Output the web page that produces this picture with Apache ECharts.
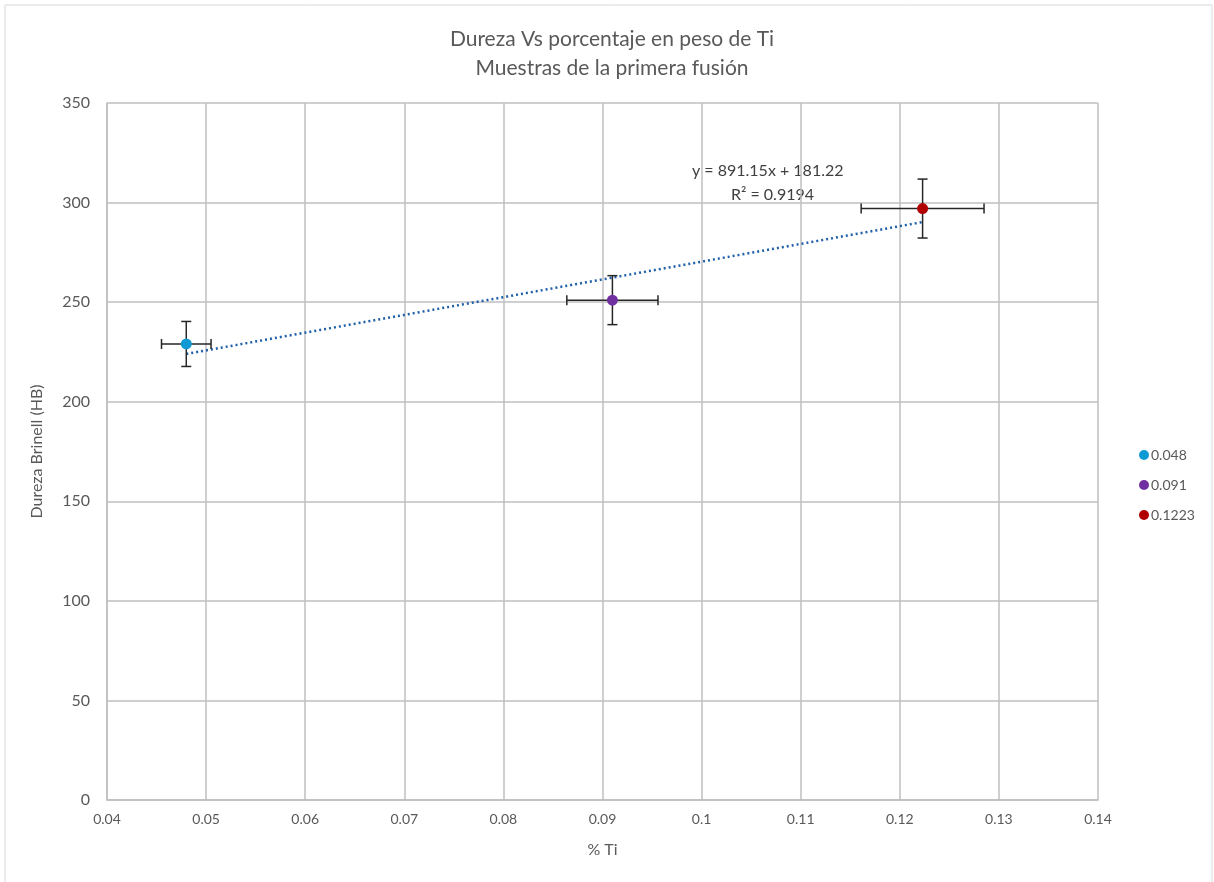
<!DOCTYPE html>
<html><head><meta charset="utf-8">
<script src="https://cdn.jsdelivr.net/npm/echarts@6/dist/echarts.min.js"></script>
<style>html,body{margin:0;padding:0;background:#fff}#c{width:1214px;height:882px}</style>
</head><body><div id="c"></div>
<script>
const names = ['0.048', '0.091', '0.1223'];
const xVals = [0.048, 0.091, 0.1223];
const yVals = [229, 251, 297];
const yErr = [11.3, 12.3, 14.8];
const xErr = [0.0025, 0.0046, 0.0062];
const colors = ['#0f9ad6', '#7030a0', '#b00000'];
const trendX = [0.048, 0.1223];
const trendY = [223.99, 290.21];
const xTicks = [0.04, 0.05, 0.06, 0.07, 0.08, 0.09, 0.1, 0.11, 0.12, 0.13, 0.14];

const FONT = 'Lato, "Open Sans", sans-serif';
const chart = echarts.init(document.getElementById('c'));

const pointSeries = names.map((n, i) => ({
  name: n, type: 'scatter', symbol: 'circle', symbolSize: 11,
  itemStyle: {color: colors[i], opacity: 1}, z: 5,
  data: [[xVals[i], yVals[i]]]
}));

const errSeries = {
  type: 'custom', silent: true, z: 4,
  data: xVals.map((x, i) => [x, yVals[i], xErr[i], yErr[i]]),
  renderItem: function (params, api) {
    const x = api.value(0), y = api.value(1), dx = api.value(2), dy = api.value(3);
    const c = api.coord([x, y]);
    const l = api.coord([x - dx, y]), r = api.coord([x + dx, y]);
    const t = api.coord([x, y + dy]), b = api.coord([x, y - dy]);
    const st = {stroke: '#262626', lineWidth: 1.5};
    const cap = 5;
    return {type: 'group', children: [
      {type: 'line', shape: {x1: l[0], y1: c[1], x2: r[0], y2: c[1]}, style: st},
      {type: 'line', shape: {x1: l[0], y1: c[1]-cap, x2: l[0], y2: c[1]+cap}, style: st},
      {type: 'line', shape: {x1: r[0], y1: c[1]-cap, x2: r[0], y2: c[1]+cap}, style: st},
      {type: 'line', shape: {x1: c[0], y1: t[1], x2: c[0], y2: b[1]}, style: st},
      {type: 'line', shape: {x1: c[0]-cap, y1: t[1], x2: c[0]+cap, y2: t[1]}, style: st},
      {type: 'line', shape: {x1: c[0]-cap, y1: b[1], x2: c[0]+cap, y2: b[1]}, style: st}
    ]};
  }
};

const trendSeries = {
  type: 'line', silent: true, symbol: 'none', z: 3,
  lineStyle: {color: '#1f5fa8', width: 2.5, type: [2, 3]},
  data: trendX.map((x, i) => [x, trendY[i]])
};

chart.setOption({
  backgroundColor: '#fff',
  animation: false,
  title: {
    text: 'Dureza Vs porcentaje en peso de Ti\nMuestras de la primera fusión',
    left: 607, top: 20, textAlign: 'center',
    textStyle: {fontFamily: FONT, fontSize: 21, fontWeight: 'normal', color: '#595959', lineHeight: 29}
  },
  legend: {
    orient: 'vertical', left: 1134, top: 443, itemGap: 16,
    icon: 'circle', itemWidth: 10, itemHeight: 10,
    textStyle: {fontFamily: FONT, fontSize: 14, color: '#595959', padding: [0,0,0,-3]},
    data: names
  },
  grid: {left: 107, right: 116, top: 103, bottom: 82},
  xAxis: {
    type: 'value', min: 0.04, max: 0.14, interval: 0.01,
    name: '% Ti', nameLocation: 'middle', nameGap: 42,
    nameTextStyle: {fontFamily: FONT, fontSize: 16, color: '#595959'},
    axisLine: {show: true, lineStyle: {color: '#bfbfbf', width: 1.5}},
    axisTick: {show: false},
    axisLabel: {fontFamily: FONT, fontSize: 14, color: '#595959', margin: 12,
      formatter: v => { const t = xTicks.find(k => Math.abs(k - v) < 1e-9); return t === undefined ? '' : String(t); }},
    splitLine: {show: true, lineStyle: {color: '#bfbfbf', width: 1.5}}
  },
  yAxis: {
    type: 'value', min: 0, max: 350, interval: 50,
    name: 'Dureza Brinell (HB)', nameLocation: 'middle', nameGap: 62, nameRotate: 90,
    nameTextStyle: {fontFamily: FONT, fontSize: 16, color: '#595959'},
    axisLine: {show: true, lineStyle: {color: '#bfbfbf', width: 1.5}},
    axisTick: {show: false},
    axisLabel: {fontFamily: FONT, fontSize: 16, color: '#595959', margin: 17},
    splitLine: {show: true, lineStyle: {color: '#bfbfbf', width: 1.5}}
  },
  graphic: [
    {type: 'rect', shape: {x: 5, y: 5, width: 1207, height: 885}, style: {fill: 'none', stroke: '#d9d9d9', lineWidth: 1}, silent: true},
    {type: 'text', left: 692, top: 163, style: {text: 'y = 891.15x + 181.22', fontFamily: FONT, fontSize: 16, fill: '#404040'}},
    {type: 'text', left: 731, top: 187, style: {text: 'R² = 0.9194', fontFamily: FONT, fontSize: 16, fill: '#404040'}}
  ],
  series: [trendSeries, errSeries, ...pointSeries]
});
</script></body></html>
